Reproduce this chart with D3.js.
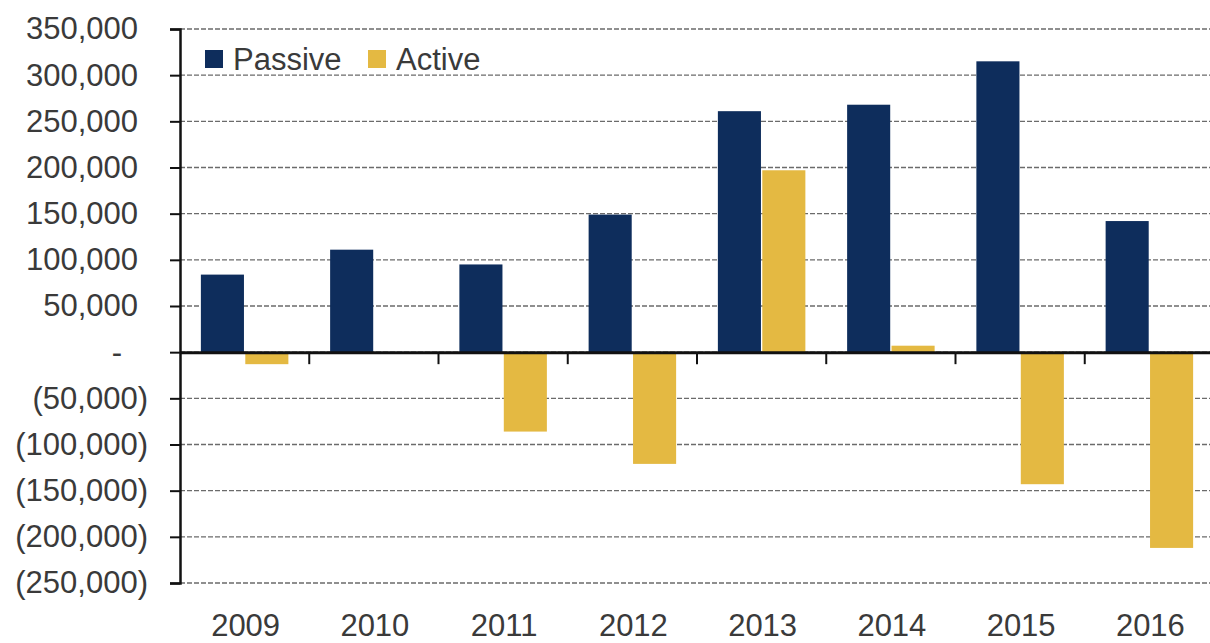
<!DOCTYPE html>
<html>
<head>
<meta charset="utf-8">
<script src="https://cdn.jsdelivr.net/npm/d3@7/dist/d3.min.js"></script>
<style>
  html, body { margin: 0; padding: 0; background: #fff; }
  svg { display: block; font-family: "Liberation Sans", Arial, sans-serif; }
</style>
</head>
<body>
<svg id="chart" width="1210" height="643"></svg>
<script>
// Annual fund flows by management style
const years = ["2009", "2010", "2011", "2012", "2013", "2014", "2015", "2016"];
const seriesNames = ["Passive", "Active"];
const passive = [84000, 111000, 95000, 149000, 261000, 268000, 315000, 142000];
const active = [-13000, 0, -86000, -121000, 197000, 7000, -143000, -212000];
const yTicks = [350000, 300000, 250000, 200000, 150000, 100000, 50000, 0,
                -50000, -100000, -150000, -200000, -250000];
const colors = ["#0e2d5c", "#e4b942"];

(function () {
  const svg = d3.select("#chart");
  const plotLeft = 180, plotRight = 1214, plotTop = 29, plotBottom = 583;

  const x = d3.scaleBand().domain(years).range([plotLeft, plotRight]).padding(0);
  const x1 = d3.scaleBand().domain(seriesNames)
    .range([0, x.bandwidth()]).paddingInner(0.03).paddingOuter(0.47);
  const y = d3.scaleLinear().domain([-250000, 350000]).range([plotBottom, plotTop]);

  const rows = years.map((yr, i) => ({ year: yr, values: [passive[i], active[i]] }));

  // dashed horizontal gridlines
  svg.append("g")
    .selectAll("line")
    .data(yTicks)
    .join("line")
    .attr("x1", plotLeft).attr("x2", 1210)
    .attr("y1", d => y(d)).attr("y2", d => y(d))
    .attr("stroke", "#6b6b6b")
    .attr("stroke-width", 1.3)
    .attr("stroke-dasharray", "5,2");

  // bars
  svg.append("g")
    .selectAll("g")
    .data(rows)
    .join("g")
    .attr("transform", d => `translate(${x(d.year)},0)`)
    .selectAll("rect")
    .data(d => d.values.map((v, k) => ({ key: seriesNames[k], value: v, k })))
    .join("rect")
    .attr("x", d => x1(d.key))
    .attr("width", x1.bandwidth())
    .attr("y", d => y(Math.max(0, d.value)))
    .attr("height", d => Math.abs(y(d.value) - y(0)))
    .attr("fill", d => colors[d.k]);

  // y axis with accounting-style labels
  const fmt = d3.format(",");
  const yAxis = d3.axisLeft(y)
    .tickValues(yTicks)
    .tickSize(10)
    .tickPadding(32)
    .tickFormat(d => d === 0 ? "-" : d < 0 ? `(${fmt(-d)})` : fmt(d));

  const gy = svg.append("g")
    .attr("transform", `translate(${plotLeft},0)`)
    .call(yAxis);
  gy.select(".domain").attr("stroke", "#111").attr("stroke-width", 2.5);
  gy.selectAll(".tick line").attr("stroke", "#111").attr("stroke-width", 2);
  gy.selectAll(".tick text")
    .attr("fill", "#3a3a3a")
    .attr("font-size", 31)
    .attr("font-family", "Liberation Sans, Arial, sans-serif")
    .attr("dx", d => d < 0 ? 10 : d === 0 ? -16 : 0);

  // category axis along the zero line
  const xAxis = d3.axisBottom(x).tickSize(0).tickFormat("");
  const gx = svg.append("g")
    .attr("transform", `translate(0,${y(0)})`)
    .call(xAxis);
  gx.select(".domain").attr("stroke", "#111").attr("stroke-width", 3);

  // tick marks at category boundaries
  svg.append("g")
    .selectAll("line")
    .data(years)
    .join("line")
    .attr("x1", d => x(d) + x.step())
    .attr("x2", d => x(d) + x.step())
    .attr("y1", y(0)).attr("y2", y(0) + 12)
    .attr("stroke", "#111").attr("stroke-width", 2);

  // year labels at the bottom
  svg.append("g")
    .selectAll("text")
    .data(years)
    .join("text")
    .attr("x", d => x(d) + x.bandwidth() / 2 + 1)
    .attr("y", 636)
    .attr("text-anchor", "middle")
    .attr("font-size", 31)
    .attr("fill", "#3a3a3a")
    .text(d => d);

  // legend
  const legendX = [205, 368];
  const legend = svg.append("g")
    .selectAll("g")
    .data(seriesNames)
    .join("g")
    .attr("transform", (d, i) => `translate(${legendX[i]},50)`);
  legend.append("rect")
    .attr("width", 18).attr("height", 18)
    .attr("fill", (d, i) => colors[i]);
  legend.append("text")
    .attr("x", 28).attr("y", 20)
    .attr("font-size", 31)
    .attr("fill", "#3a3a3a")
    .text(d => d);
})();
</script>
</body>
</html>
